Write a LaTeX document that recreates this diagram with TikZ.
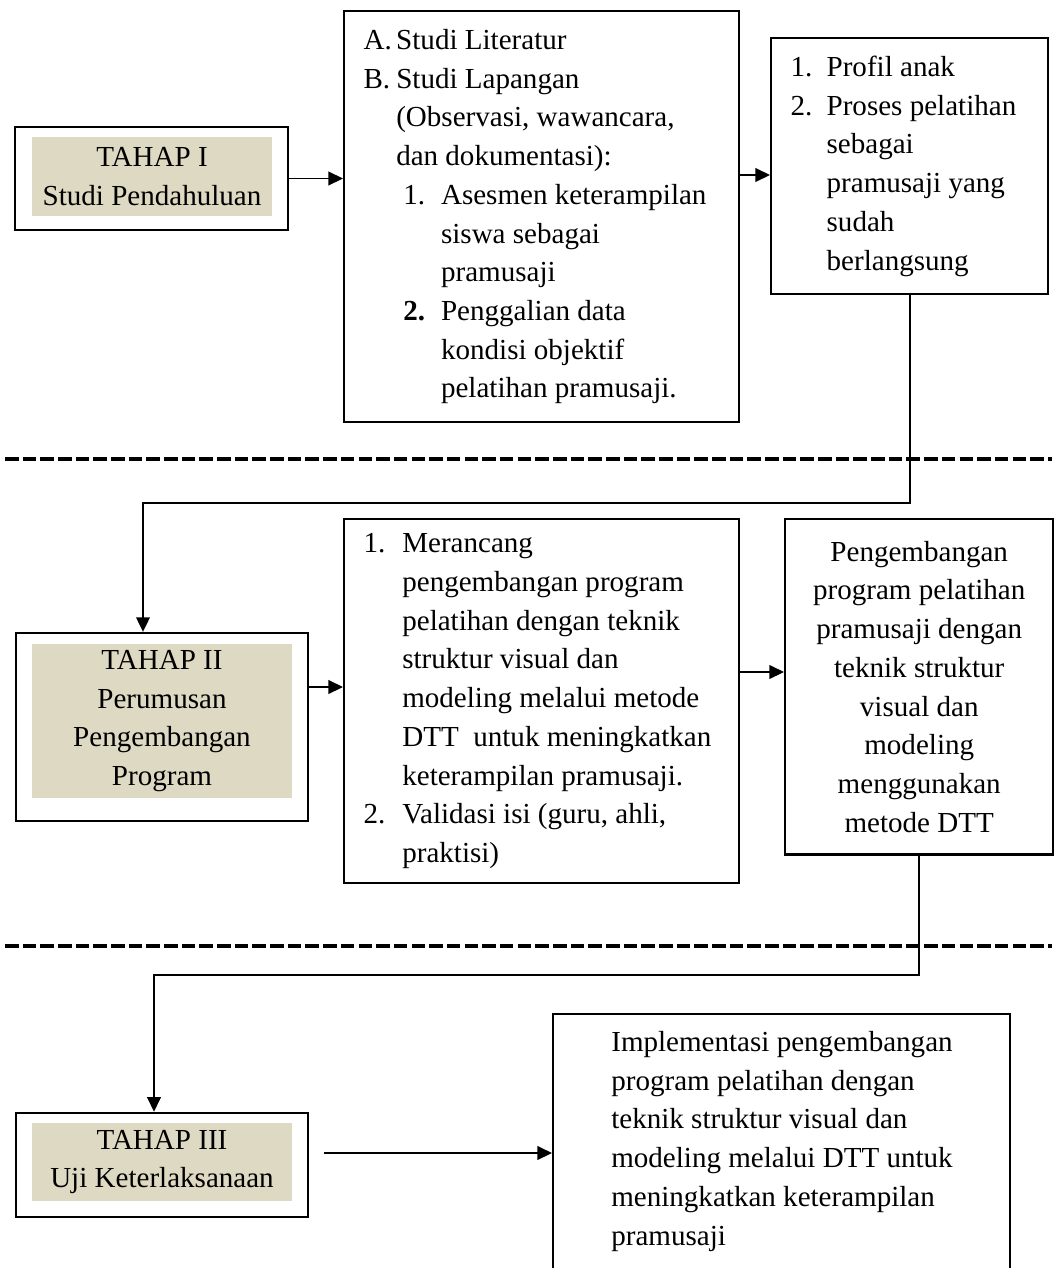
\documentclass[tikz,border=0pt]{standalone}
\usepackage{fontspec}
\setmainfont{Liberation Serif}
\usetikzlibrary{arrows.meta, positioning}
\definecolor{TahapFill}{HTML}{DDD9C3}
\definecolor{LineBlack}{HTML}{000000}
\tikzset{
  frame/.style={draw=LineBlack, line width=1pt, inner sep=0pt},
  tahapbox/.style={frame, anchor=center},
  tahapfill/.style={fill=TahapFill, align=flush center, inner sep=0pt},
  listbox/.style={frame, anchor=north west, align=flush left, inner xsep=8pt},
  flow/.style={draw=LineBlack, line width=0.8pt, -{Triangle[length=6pt,width=5.6pt]}},
  separator/.style={draw=LineBlack, line width=1.3pt, dash pattern=on 5.6pt off 1.7pt},
}
\begin{document}
\begin{tikzpicture}[x=0.413pt, y=-0.413pt, font=\fontsize{12}{16}\selectfont]
  \useasboundingbox (0,0) rectangle (1055,1268);
  \clip (0,0) rectangle (1055,1268);

  % TAHAP I
  \node[tahapbox, minimum width=112.7pt, minimum height=42.5pt] (tahapI) at (151.5,178.5) {};
  \node[tahapfill, minimum width=99.1pt, minimum height=32.6pt] (tahapIlbl) at (152,176.5) {TAHAP I\\Studi Pendahuluan};

  % Studi literatur dan lapangan
  \node[listbox, minimum width=163.1pt, minimum height=169.7pt, text width=147.1pt] (studi) at (343,10) {%
    \makebox[13.5pt][l]{A.}Studi Literatur\\
    \makebox[13.5pt][l]{B.}Studi Lapangan\\
    \hspace*{13.5pt}(Observasi, wawancara,\\
    \hspace*{13.5pt}dan dokumentasi):\\
    \hspace*{16.4pt}\makebox[15.6pt][l]{1.}Asesmen keterampilan\\
    \hspace*{32pt}siswa sebagai\\
    \hspace*{32pt}pramusaji\\
    \hspace*{16.4pt}\makebox[15.6pt][l]{\textbf{2.}}Penggalian data\\
    \hspace*{32pt}kondisi objektif\\
    \hspace*{32pt}pelatihan pramusaji.};

  % Hasil studi
  \node[listbox, minimum width=114.4pt, minimum height=105.7pt, text width=98.4pt] (profil) at (770,37) {%
    \makebox[14.9pt][l]{1.}Profil anak\\
    \makebox[14.9pt][l]{2.}Proses pelatihan\\
    \hspace*{14.9pt}sebagai\\
    \hspace*{14.9pt}pramusaji yang\\
    \hspace*{14.9pt}sudah\\
    \hspace*{14.9pt}berlangsung};

  % TAHAP II
  \node[tahapbox, minimum width=120.6pt, minimum height=77.6pt] (tahapII) at (162,727) {};
  \node[tahapfill, minimum width=107.4pt, minimum height=63.6pt] (tahapIIlbl) at (162,721) {TAHAP II\\Perumusan\\Pengembangan\\Program};

  % Rancangan program
  \node[listbox, minimum width=163.1pt, minimum height=150.3pt, text width=147.1pt] (rancang) at (343,518) {%
    \makebox[16pt][l]{1.}Merancang\\
    \hspace*{16pt}pengembangan program\\
    \hspace*{16pt}pelatihan dengan teknik\\
    \hspace*{16pt}struktur visual dan\\
    \hspace*{16pt}modeling melalui metode\\
    \hspace*{16pt}DTT~ untuk meningkatkan\\
    \hspace*{16pt}keterampilan pramusaji.\\
    \makebox[16pt][l]{2.}Validasi isi (guru, ahli,\\
    \hspace*{16pt}praktisi)};

  % Produk program
  \node[frame, anchor=north west, align=flush center, text width=100pt, inner xsep=5.35pt, minimum width=110.7pt, minimum height=138.4pt] (produk) at (784,518) {%
    Pengembangan\\program pelatihan\\pramusaji dengan\\teknik struktur\\visual dan\\modeling\\menggunakan\\metode DTT};

  % TAHAP III
  \node[tahapbox, minimum width=120.6pt, minimum height=43pt] (tahapIII) at (162,1165) {};
  \node[tahapfill, minimum width=107.4pt, minimum height=32.2pt] (tahapIIIlbl) at (162,1162) {TAHAP III\\Uji Keterlaksanaan};

  % Implementasi (bottom runs off the page)
  \node[frame, anchor=north west, inner ysep=7pt] (implementasi) at (552,1013) {%
    \parbox[c][110pt][t]{188.7pt}{\raggedright\leftskip=24pt\relax
      Implementasi pengembangan\\
      program pelatihan dengan\\
      teknik struktur visual dan\\
      modeling melalui DTT untuk\\
      meningkatkan keterampilan\\
      pramusaji}};

  % Separators
  \draw[separator] (5,459) -- (1052,459);
  \draw[separator] (5,946) -- (1052,946);

  % Connectors
  \coordinate (rowA) at (0,175);
  \coordinate (rowB) at (0,687);
  \coordinate (rowC) at (0,672);
  \coordinate (bendB) at (143,503);
  \coordinate (bendD) at (154,975);
  \coordinate (ujiStart) at (324,1153);

  \draw[flow] (tahapI.east) -- (tahapI.east -| studi.west);
  \draw[flow] (studi.east |- rowA) -- (profil.west |- rowA);
  \draw[flow] (profil.south) |- (bendB) -- (bendB |- tahapII.north);
  \draw[flow] (tahapII.east |- rowB) -- (rancang.west |- rowB);
  \draw[flow] (rancang.east |- rowC) -- (produk.west |- rowC);
  \draw[flow] (produk.south) |- (bendD) -- (bendD |- tahapIII.north);
  \draw[flow] (ujiStart) -- (ujiStart -| implementasi.west);
\end{tikzpicture}
\end{document}
